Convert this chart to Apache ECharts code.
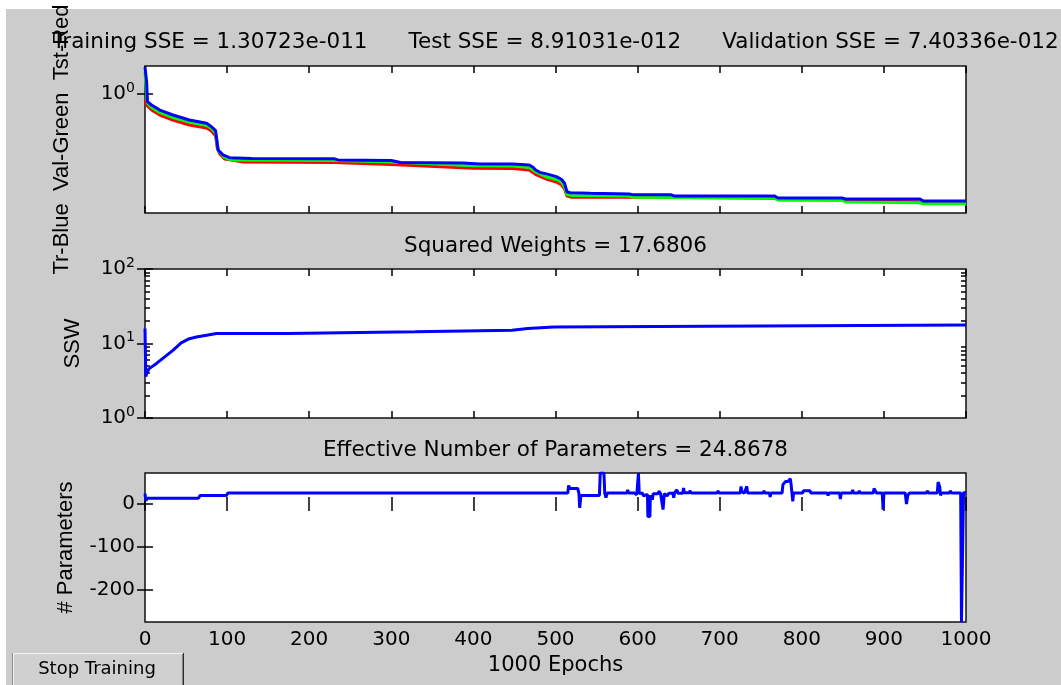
<!DOCTYPE html>
<html><head><meta charset="utf-8">
<script src="https://cdn.jsdelivr.net/npm/echarts@6/dist/echarts.min.js"></script>
<style>html,body{margin:0;padding:0;background:#fff;}#c{width:1061px;height:685px;}</style>
</head><body><div id="c"></div>
<script>
// ---- data ----
const trEpochs = [0,2,3,8,18,34,54,75,81,86,87,89,95,103,130,230,235,300,311,387,408,448,468,472,476,481,489,501,507,511,514,518,542,590,595,641,645,767,771,849,853,944,948,1000];
const trPerf = [1.527,1.207,0.886,0.842,0.778,0.720,0.665,0.632,0.599,0.563,0.510,0.416,0.385,0.369,0.364,0.363,0.356,0.353,0.342,0.339,0.334,0.334,0.329,0.319,0.304,0.293,0.286,0.274,0.263,0.247,0.216,0.213,0.211,0.209,0.206,0.206,0.202,0.202,0.196,0.196,0.193,0.193,0.187,0.187];
const valEpochs = [0,2,3,8,18,34,54,75,81,86,88,90,96,104,230,300,400,448,468,476,489,501,507,511,514,520,590,595,767,771,849,853,944,948,1000];
const valPerf = [1.411,0.984,0.869,0.809,0.749,0.692,0.645,0.610,0.583,0.543,0.450,0.409,0.373,0.356,0.353,0.345,0.325,0.324,0.316,0.295,0.272,0.262,0.252,0.233,0.207,0.204,0.202,0.198,0.196,0.190,0.190,0.184,0.182,0.179,0.179];
const tstEpochs = [0,3,8,18,34,54,75,81,86,88,91,97,120,230,300,400,448,468,476,489,501,507,511,514,520,590,767,771,849,853,944,948,1000];
const tstPerf = [0.910,0.829,0.778,0.720,0.665,0.615,0.587,0.560,0.518,0.429,0.391,0.361,0.345,0.342,0.332,0.312,0.311,0.304,0.283,0.264,0.252,0.242,0.226,0.202,0.198,0.199,0.195,0.191,0.190,0.187,0.185,0.181,0.181];

const sswEpochs = [0,1,2,5,14,24,34,44,54,64,75,87,173,175,329,331,447,449,466,468,498,500,1000];
const sswValues = [15.9,3.6,3.95,4.6,5.4,6.6,8.1,10.2,11.6,12.3,12.9,13.6,13.6,14.4,14.4,15.1,15.1,15.9,15.9,16.7,16.7,17.68,17.68];

const parEpochs = [0,1,3,65,67,99,101,515,516,517.5,527,528.5,529.5,531,553.5,554.5,559,560,561.5,563,
  587,588,589,596,597,599,600,601,602,606,607,609,612,612.5,615,615.5,618,619,625,626,
  628,630,631,632.5,636,638,643,644,645,647,648,649,655,656,657,663,664,665,685,686,
  687,697,698,699,725,726,727,729,730,732,733,734,739,740,741,753,754,755,760.5,761.5,
  762.5,776,777,779,780,783,784,786,787,788,789,790,801,802,810,811,831,832,833,846,
  847,848,861,862,863,869,870,871,887,888,890,891,898,899,900,926,927.5,929,931,952,
  953,954,965,966,968,969,970,980,981,982,993.5,994.5,996,997,1000];
const parValues = [24,8,13.5,13.5,19.5,19.5,25.5,25.5,43,36,36,25.5,-9,20,20,72,72,25,14.6,25.5,
  25.5,33,25.5,25.5,21.5,21.5,25.5,72,25,25,19,22,22,-29,-29,20,10,24,24,30,
  24,22,-13,24,19,25,25,14.6,26,26,33,25,25,37,26,26,31,25.5,25.5,21.5,
  25.5,25.5,31,25.5,25.5,41,27.9,27.9,25.5,25.5,41,25.5,25.5,23,25.5,25.5,31,25.5,25.5,16.3,
  25.5,25.5,45,45,52,52,56,59,45,45,6,25.5,25.5,31,31,25.5,25.5,20,25.5,25.5,
  11.6,25.5,25.5,33,25.5,25.5,31,25.5,25.5,36,36,25.5,25.5,-13,25.5,25.5,0,19,25.5,25.5,
  31,25.5,25.5,51,40,20,25.5,25.5,31,25.5,25.5,-274,-274,27,24.9];

const perfTicks = [1];
const sswTicks = [1, 10, 100];
const sswMinorTicks = [2,3,4,5,6,7,8,9,20,30,40,50,60,70,80,90];
const parTicks = [-200, -100, 0];
const titles = [
  'Training SSE = 1.30723e-011      Test SSE = 8.91031e-012      Validation SSE = 7.40336e-012',
  'Squared Weights = 17.6806',
  'Effective Number of Parameters = 24.8678'
];
const yNames = ['Tr-Blue  Val-Green  Tst-Red', 'SSW', '# Parameters'];
const xName = '1000 Epochs';

// ---- layout ----
const GL = 145, GW = 821, CX = GL + GW / 2;
const grids = [{top: 66, height: 147}, {top: 269, height: 149}, {top: 473, height: 149}];
const titleTops = [30, 234, 438];
const TF = 'DejaVu Sans';

const mctx = document.createElement('canvas').getContext('2d');
function tw(t, size) { mctx.font = size + 'px "' + TF + '"'; return mctx.measureText(t).width; }
function pairs(xs, ys) { return xs.map((x, i) => [x, ys[i]]); }

const tickStyle = {color: '#000', width: 1.5};
function xAx(g, pos, labels) {
  return {type: 'value', gridIndex: g, position: pos, min: 0, max: 1000, interval: 100,
    axisLine: {show: false}, splitLine: {show: false},
    axisTick: {show: true, inside: true, length: 7, lineStyle: tickStyle},
    axisLabel: {show: labels, color: '#000', fontSize: 20, fontFamily: TF, margin: 8,
      showMinLabel: true, showMaxLabel: true, formatter: v => String(v)}};
}
const powRich = {
  b: {fontSize: 20, fontFamily: TF, color: '#000', lineHeight: 22},
  s: {fontSize: 14, fontFamily: TF, color: '#000', lineHeight: 14, padding: [0, 0, 12, 0]}
};
function powFmt(v) { return '{b|10}{s|' + Math.round(Math.log10(v)) + '}'; }
const nameStyle = {fontFamily: 'Liberation Sans', fontSize: 22, color: '#000'};

const xAxis = [
  xAx(0, 'bottom', false), xAx(0, 'top', false),
  xAx(1, 'bottom', false), xAx(1, 'top', false),
  Object.assign(xAx(2, 'bottom', true), {name: xName, nameLocation: 'middle', nameGap: 33,
    nameTextStyle: {fontFamily: TF, fontSize: 21, color: '#000'}}),
  xAx(2, 'top', false)
];

function yLog(g, pos, min, max, ticks, len, labels, name, gap) {
  const a = {type: 'log', gridIndex: g, position: pos, min: min, max: max,
    axisLine: {show: false}, splitLine: {show: false}, minorTick: {show: false},
    axisTick: {show: true, inside: true, length: len, customValues: ticks, lineStyle: tickStyle},
    axisLabel: {show: labels, customValues: ticks, formatter: powFmt, rich: powRich, margin: 10}};
  if (name) Object.assign(a, {name: name, nameLocation: 'middle', nameRotate: 90, nameGap: gap, nameTextStyle: nameStyle});
  return a;
}
function yLin(g, pos, labels, name, gap) {
  const a = {type: 'value', gridIndex: g, position: pos, min: -274, max: 72,
    axisLine: {show: false}, splitLine: {show: false},
    axisTick: {show: true, inside: true, length: 8, customValues: parTicks, lineStyle: tickStyle},
    axisLabel: {show: labels, customValues: parTicks, color: '#000', fontSize: 20, fontFamily: TF, margin: 10}};
  if (name) Object.assign(a, {name: name, nameLocation: 'middle', nameRotate: 90, nameGap: gap, nameTextStyle: nameStyle});
  return a;
}
const PMIN = 0.155, PMAX = 1.551;
const yAxis = [
  yLog(0, 'left', PMIN, PMAX, perfTicks, 8, true, yNames[0], 72),
  yLog(0, 'right', PMIN, PMAX, perfTicks, 8, false),
  yLog(1, 'left', 1, 100, sswTicks, 8, true, yNames[1], 61),
  yLog(1, 'right', 1, 100, sswTicks, 8, false),
  yLog(1, 'left', 1, 100, sswMinorTicks, 5, false),
  yLog(1, 'right', 1, 100, sswMinorTicks, 5, false),
  yLin(2, 'left', true, yNames[2], 68),
  yLin(2, 'right', false)
];

function lineS(xi, yi, data, color) {
  return {type: 'line', xAxisIndex: xi, yAxisIndex: yi, data: data, symbol: 'none', showSymbol: false,
    lineStyle: {color: color, width: 3}, itemStyle: {color: color}, clip: true};
}

const option = {
  backgroundColor: '#ffffff',
  animation: false,
  textStyle: {fontFamily: TF},
  title: titles.map((t, i) => ({text: t, left: CX - tw(t, 21.5) / 2, top: titleTops[i], padding: 0,
    textStyle: {fontFamily: TF, fontSize: 21.5, fontWeight: 'normal', color: '#000', lineHeight: 24}})),
  grid: grids.map(g => ({left: GL, width: GW, top: g.top, height: g.height, show: true,
    backgroundColor: '#ffffff', borderColor: '#111', borderWidth: 1.5, containLabel: false, outerBoundsMode: 'none'})),
  xAxis: xAxis,
  yAxis: yAxis,
  series: [
    lineS(0, 0, pairs(tstEpochs, tstPerf), '#ff0000'),
    lineS(0, 0, pairs(valEpochs, valPerf), '#00ff00'),
    lineS(0, 0, pairs(trEpochs, trPerf), '#0000ff'),
    lineS(2, 2, pairs(sswEpochs, sswValues), '#0000ff'),
    lineS(4, 6, pairs(parEpochs, parValues), '#0000ff')
  ],
  graphic: [
    {type: 'rect', z: -100, silent: true, shape: {x: 6, y: 9, width: 1055, height: 676}, style: {fill: '#cccccc'}},
    {type: 'group', z: 10, children: [
      {type: 'rect', shape: {x: 12, y: 653, width: 172, height: 40}, style: {fill: '#d0d0d0'}},
      {type: 'line', shape: {x1: 12, y1: 653.5, x2: 183, y2: 653.5}, style: {stroke: '#f4f4f4', lineWidth: 1}},
      {type: 'line', shape: {x1: 12.5, y1: 653, x2: 12.5, y2: 685}, style: {stroke: '#8a8a8a', lineWidth: 1}},
      {type: 'line', shape: {x1: 13.5, y1: 654, x2: 13.5, y2: 685}, style: {stroke: '#f4f4f4', lineWidth: 1}},
      {type: 'line', shape: {x1: 182.5, y1: 654, x2: 182.5, y2: 685}, style: {stroke: '#808080', lineWidth: 1}},
      {type: 'line', shape: {x1: 183.5, y1: 653, x2: 183.5, y2: 685}, style: {stroke: '#303030', lineWidth: 1}},
      {type: 'text', x: 97, y: 669, style: {text: 'Stop Training', align: 'center', verticalAlign: 'middle',
        fontSize: 18, fontFamily: TF, fill: '#000'}}
    ]}
  ]
};
const chart = echarts.init(document.getElementById('c'), null, {renderer: 'canvas'});
chart.setOption(option);
</script>
</body></html>
